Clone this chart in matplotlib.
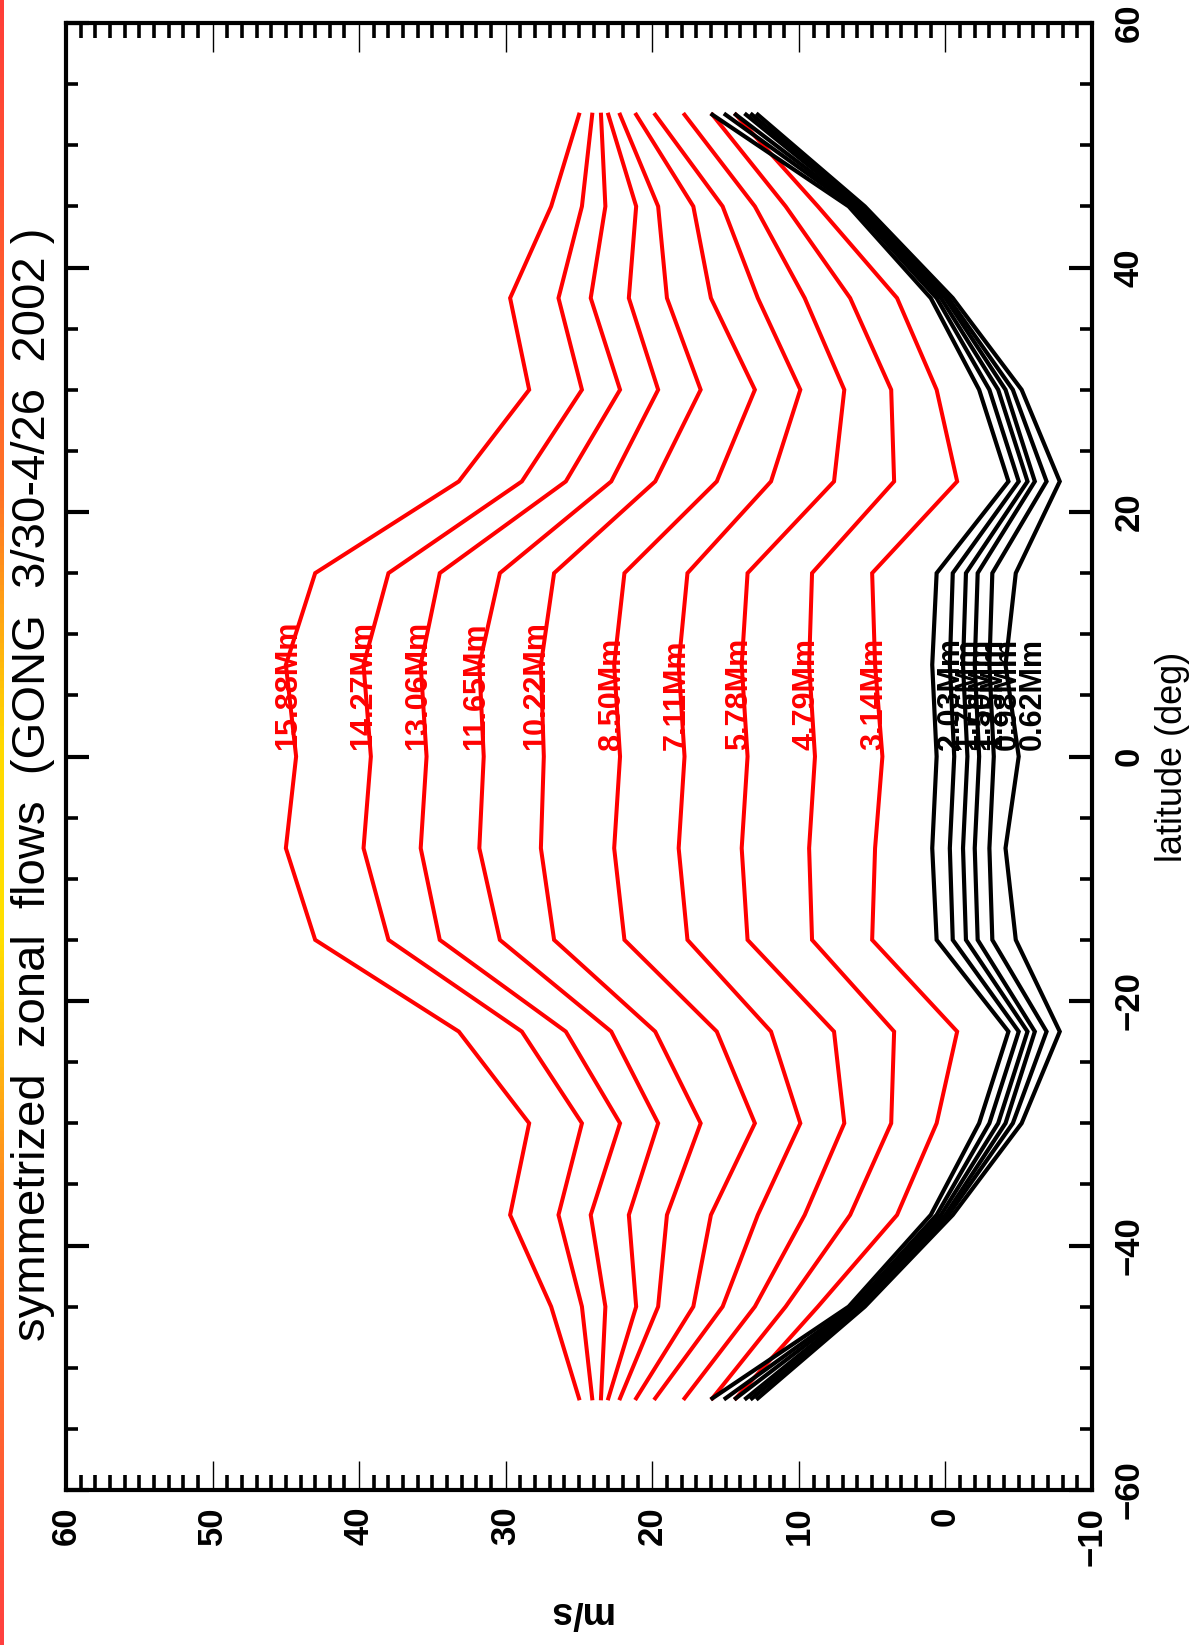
import matplotlib
matplotlib.use('Agg')
import matplotlib.pyplot as plt
import numpy as np
from matplotlib.ticker import MultipleLocator
from matplotlib.transforms import offset_copy
from matplotlib.colors import LinearSegmentedColormap

plt.rcParams['font.family'] = ['Liberation Sans', 'DejaVu Sans']

# latitude grid (deg), south to north
latitude = [-52.5, -45, -37.5, -30, -22.5, -15, -7.5, 0, 7.5, 15, 22.5, 30, 37.5, 45, 52.5]

# zonal flow (m/s) for each depth
flow_15_88 = [25.0, 26.9, 29.7, 28.4, 33.2, 43.0, 45.0, 44.3, 45.0, 43.0, 33.2, 28.4, 29.7, 26.9, 25.0]
flow_14_27 = [24.1, 24.8, 26.4, 24.8, 28.9, 38.0, 39.7, 39.2, 39.7, 38.0, 28.9, 24.8, 26.4, 24.8, 24.1]
flow_13_06 = [23.5, 23.2, 24.2, 22.2, 25.9, 34.5, 35.8, 35.4, 35.8, 34.5, 25.9, 22.2, 24.2, 23.2, 23.5]
flow_11_65 = [23.0, 21.1, 21.6, 19.6, 22.8, 30.4, 31.8, 31.5, 31.8, 30.4, 22.8, 19.6, 21.6, 21.1, 23.0]
flow_10_22 = [22.2, 19.6, 19.0, 16.7, 19.8, 26.7, 27.6, 27.4, 27.6, 26.7, 19.8, 16.7, 19.0, 19.6, 22.2]
flow_8_50 = [21.1, 17.2, 16.0, 13.0, 15.6, 21.9, 22.6, 22.2, 22.6, 21.9, 15.6, 13.0, 16.0, 17.2, 21.1]
flow_7_11 = [19.8, 15.2, 12.8, 9.9, 11.9, 17.6, 18.2, 17.8, 18.2, 17.6, 11.9, 9.9, 12.8, 15.2, 19.8]
flow_5_78 = [17.8, 13.0, 9.6, 6.9, 7.6, 13.5, 13.9, 13.5, 13.9, 13.5, 7.6, 6.9, 9.6, 13.0, 17.8]
flow_4_79 = [15.9, 10.9, 6.5, 3.7, 3.5, 9.1, 9.3, 8.9, 9.3, 9.1, 3.5, 3.7, 6.5, 10.9, 15.9]
flow_3_14 = [14.3, 8.7, 3.3, 0.6, -0.8, 5.0, 4.8, 4.3, 4.8, 5.0, -0.8, 0.6, 3.3, 8.7, 14.3]
flow_2_03 = [15.9, 6.6, 1.0, -2.3, -4.3, 0.6, 0.9, 0.6, 0.9, 0.6, -4.3, -2.3, 1.0, 6.6, 15.9]
flow_1_76 = [15.0, 6.3, 0.6, -3.0, -5.0, -0.5, -0.3, -0.6, -0.3, -0.5, -5.0, -3.0, 0.6, 6.3, 15.0]
flow_1_50 = [14.3, 6.1, 0.3, -3.6, -5.6, -1.4, -1.2, -1.5, -1.2, -1.4, -5.6, -3.6, 0.3, 6.1, 14.3]
flow_1_25 = [13.6, 5.9, 0.0, -4.1, -6.1, -2.2, -2.0, -2.3, -2.0, -2.2, -6.1, -4.1, 0.0, 5.9, 13.6]
flow_0_98 = [13.2, 5.7, -0.2, -4.6, -6.9, -3.2, -3.0, -3.3, -3.0, -3.2, -6.9, -4.6, -0.2, 5.7, 13.2]
flow_0_62 = [12.8, 5.5, -0.5, -5.2, -7.8, -4.8, -4.1, -5.0, -4.1, -4.8, -7.8, -5.2, -0.5, 5.5, 12.8]

red_flows = [flow_15_88, flow_14_27, flow_13_06, flow_11_65, flow_10_22,
             flow_8_50, flow_7_11, flow_5_78, flow_4_79, flow_3_14]
red_labels = ['15.88Mm', '14.27Mm', '13.06Mm', '11.65Mm', '10.22Mm',
              '8.50Mm', '7.11Mm', '5.78Mm', '4.79Mm', '3.14Mm']
black_flows = [flow_2_03, flow_1_76, flow_1_50, flow_1_25, flow_0_98, flow_0_62]
black_labels = ['2.03Mm', '1.76Mm', '1.50Mm', '1.25Mm', '0.98Mm', '0.62Mm']

W, H = 1189, 1645
fig = plt.figure(figsize=(W / 100, H / 100), dpi=100)
ax = fig.add_axes([66 / W, 1 - 1490 / H, 1026 / W, 1467 / H])

i0 = latitude.index(0)
for vals, lab in zip(red_flows, red_labels):
    ax.plot(vals, latitude, color='#ff0000', lw=2.9, solid_joinstyle='miter')
    ax.text(vals[i0], 0.5, lab, color='#ff0000', fontsize=22, fontweight='bold',
            rotation=90, rotation_mode='anchor', ha='left', va='baseline')

shift = offset_copy(ax.transData, fig=fig, x=22, y=0, units='dots')
for vals, lab in zip(black_flows, black_labels):
    ax.plot(vals, latitude, color='black', lw=3.0, solid_joinstyle='miter')
    ax.text(vals[i0], 0.5, lab, color='black', fontsize=22, fontweight='bold',
            rotation=90, rotation_mode='anchor', ha='left', va='baseline',
            transform=shift)

ax.set_xlim(60, -10)
ax.set_ylim(-60, 60)
ax.xaxis.set_major_locator(MultipleLocator(10))
ax.xaxis.set_minor_locator(MultipleLocator(1))
ax.yaxis.set_major_locator(MultipleLocator(20))
ax.yaxis.set_minor_locator(MultipleLocator(5))

ax.tick_params(which='both', direction='in', top=True, bottom=True,
               left=True, right=True, labelleft=False, labelright=True,
               labelsize=25, colors='black')
ax.tick_params(axis='x', which='major', length=21, width=1.0, pad=12, labelrotation=90)
ax.tick_params(axis='x', which='minor', length=10.5, width=2.6)
ax.tick_params(axis='y', which='major', length=16.5, width=3.0, pad=15, labelrotation=90)
ax.tick_params(axis='y', which='minor', length=8.5, width=2.6)
for t in ax.yaxis.get_major_ticks():
    t.label2.set_va('center')
    t.label2.set_ha('left')
for lbl in ax.get_xticklabels() + ax.yaxis.get_majorticklabels():
    lbl.set_fontweight('bold')

for sp in ax.spines.values():
    sp.set_linewidth(3.0)

ax.set_xlabel('m/s', fontsize=27, fontweight='bold', rotation=180, va='center')
ax.xaxis.set_label_coords(0.5, (1490 - 1612) / 1467)
ax.yaxis.set_label_position('right')
ax.set_ylabel('latitude (deg)', fontsize=26, rotation=90, va='center', ha='center')
ax.yaxis.set_label_coords((1172 - 66) / 1026, 0.5)

fig.text(33 / W, 1 - 784 / H, 'symmetrized  zonal  flows  (GONG  3/30-4/26  2002 )',
         fontsize=34, rotation=90, ha='center', va='center')

# coloured strip at the left edge of the image
strip = fig.add_axes([0, 0, 4 / W, 1])
cmap = LinearSegmentedColormap.from_list('edge', [
    (0.0, (1.0, 0.24, 0.22)), (0.3, (1.0, 0.45, 0.15)), (0.45, (1.0, 0.85, 0.0)),
    (0.57, (1.0, 0.88, 0.0)), (0.72, (1.0, 0.55, 0.12)), (1.0, (1.0, 0.25, 0.25))])
strip.imshow(np.linspace(0, 1, 256).reshape(-1, 1), aspect='auto', cmap=cmap)
strip.axis('off')

fig.savefig('out.png', dpi=100)
